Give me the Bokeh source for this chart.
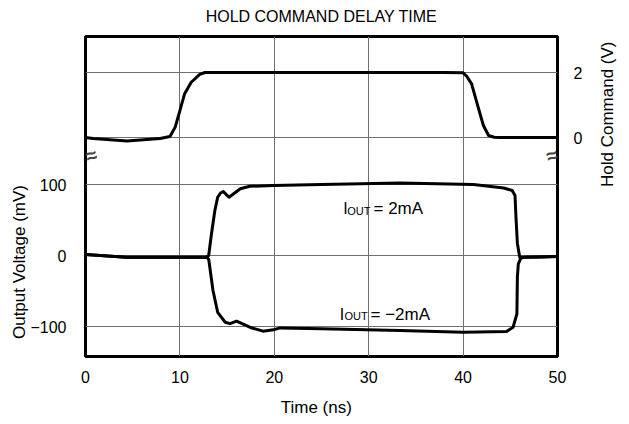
import math
from bokeh.plotting import figure
from bokeh.models import Range1d, LinearAxis, FixedTicker, Label, Grid
from bokeh.embed import file_html
from bokeh.resources import INLINE

# ---------------- data ----------------
x_ticks = [0, 10, 20, 30, 40, 50]
left_ticks = [-100, 0, 100]
left_tick_labels = {-100: "\u2212100", 0: "0", 100: "100"}
right_ticks = [0, 2]

# Hold command (V)
hold_t = [0, 0.8, 4.4, 7.9, 8.95, 9.5, 10.0, 10.5, 11.2, 12.1, 12.65, 20, 30, 38,
          40.0, 40.35, 40.9, 41.6, 42.15, 42.7, 43.3, 43.9, 50]
hold_v = [0.0, -0.03, -0.11, -0.03, 0.03, 0.32, 0.83, 1.35, 1.7, 1.94, 2.0, 2.0, 2.0, 2.0,
          1.99, 1.9, 1.65, 0.93, 0.37, 0.06, 0.01, 0.0, 0.0]

# Output voltage (mV), IOUT = 2mA
up_t = [0, 4.3, 10, 12.8, 13.05, 13.35, 13.7, 14.0, 14.3, 14.6, 15.2, 15.8, 16.4, 17.4,
        19.9, 25, 33.3, 41.1, 44.3, 45.2, 45.5, 45.6, 45.75, 46.0, 48, 50]
up_v = [1.4, -2.3, -2.3, -2.3, 0, 31, 63, 82, 88, 90, 82, 88, 94, 97.5,
        98.6, 100, 102, 100, 95, 91.5, 84.5, 54, 17, -2.4, -2, -1.5]

# Output voltage (mV), IOUT = -2mA
lo_t = [0, 4.3, 10, 12.8, 13.05, 13.5, 14.0, 14.8, 15.3, 16.0, 17.4, 18.8, 19.9, 20.6,
        25, 33.3, 40, 44.6, 45.3, 45.7, 45.75, 45.85, 46.1, 46.5, 48, 50]
lo_v = [1.4, -2.3, -2.3, -2.3, -5, -49, -80, -94, -96, -92.5, -101, -106.6, -104.7, -102,
        -103, -105.6, -108, -107, -101, -82, -30.5, -11.7, -4, -2.6, -2, -1.5]

FONT = "Liberation Sans"

p = figure(width=629, height=424, output_backend="svg", toolbar_location=None,
           x_range=Range1d(0, 50), y_range=Range1d(-142.25, 308.45),
           min_border_left=85, min_border_right=72, min_border_top=36, min_border_bottom=68,
           title_location=None)
p.extra_y_ranges = {"hold": Range1d(-6.738, 3.108)}

p.outline_line_color = "black"
p.outline_line_width = 3
p.background_fill_color = "white"
p.border_fill_color = "white"


def style_axis(ax, size="16px"):
    ax.axis_line_color = None
    ax.major_tick_line_color = None
    ax.minor_tick_line_color = None
    ax.major_tick_out = 0
    ax.major_tick_in = 0
    ax.major_label_text_font = FONT
    ax.major_label_text_font_size = size
    ax.major_label_text_color = "black"


# value axes
p.xaxis.ticker = FixedTicker(ticks=x_ticks)
p.yaxis.ticker = FixedTicker(ticks=left_ticks)
p.yaxis.major_label_overrides = left_tick_labels
right_axis = LinearAxis(y_range_name="hold", ticker=FixedTicker(ticks=right_ticks))
p.add_layout(right_axis, "right")

xax = p.xaxis[0]
yax = p.yaxis[0]
for ax in [xax, yax, right_axis]:
    style_axis(ax)
xax.major_label_standoff = 14
yax.major_label_standoff = 19
right_axis.major_label_standoff = 16

# chart title and axis titles, each carried by an outer axis with one labelled position
title_pos = 25
x_title_pos = 24.45
left_title_pos = -9.2
right_title_pos = 1.0

title_axis = LinearAxis(ticker=FixedTicker(ticks=[title_pos]),
                        major_label_overrides={title_pos: "HOLD COMMAND DELAY TIME"})
style_axis(title_axis, "16px")
title_axis.major_label_standoff = 12
p.add_layout(title_axis, "above")

x_title_axis = LinearAxis(ticker=FixedTicker(ticks=[x_title_pos]),
                          major_label_overrides={x_title_pos: "Time (ns)"})
style_axis(x_title_axis, "17px")
x_title_axis.major_label_standoff = 12
p.add_layout(x_title_axis, "below")

left_title_axis = LinearAxis(ticker=FixedTicker(ticks=[left_title_pos]),
                             major_label_overrides={left_title_pos: "Output Voltage (mV)"},
                             major_label_orientation="vertical")
style_axis(left_title_axis, "17px")
left_title_axis.major_label_standoff = -2
p.add_layout(left_title_axis, "left")

right_title_axis = LinearAxis(y_range_name="hold", ticker=FixedTicker(ticks=[right_title_pos]),
                              major_label_overrides={right_title_pos: "Hold Command (V)"},
                              major_label_orientation=math.pi / 2)
style_axis(right_title_axis, "17px")
right_title_axis.major_label_standoff = 22
p.add_layout(right_title_axis, "right")

# grids
p.xgrid.ticker = FixedTicker(ticks=[10, 20, 30, 40])
p.ygrid.ticker = FixedTicker(ticks=left_ticks)
for g in [p.xgrid[0], p.ygrid[0]]:
    g.grid_line_color = "#707070"
    g.grid_line_width = 1
g2 = Grid(dimension=1, ticker=FixedTicker(ticks=right_ticks), y_range_name="hold",
          grid_line_color="#707070", grid_line_width=1)
p.add_layout(g2)

# curves
p.line(hold_t, hold_v, y_range_name="hold", line_color="black", line_width=3, line_join="round")
p.line(up_t, up_v, line_color="black", line_width=3, line_join="round")
p.line(lo_t, lo_v, line_color="black", line_width=3, line_join="round")

# break marks on the axes
for bx in [0.6, 49.4]:
    p.add_layout(Label(x=bx, y=140.8, text="\u2248", text_align="center", text_baseline="middle",
                       text_font=FONT, text_font_size="20px", text_font_style="bold",
                       angle=0.3))


def lab(x, y, text, size="17px"):
    p.add_layout(Label(x=x, y=y, text=text, text_align="left", text_baseline="alphabetic",
                       text_font=FONT, text_font_size=size, text_color="black"))


# curve annotations
lab(27.30, 65.8, "I", size="16px")
lab(27.72, 62.0, "OUT", size="11px")
lab(30.51, 65.8, "= 2mA")
lab(26.94, -83.1, "I", size="16px")
lab(27.44, -85.9, "OUT", size="11px")
lab(30.19, -83.1, "= \u22122mA")

open("out.html", "w").write(file_html(p, INLINE))
